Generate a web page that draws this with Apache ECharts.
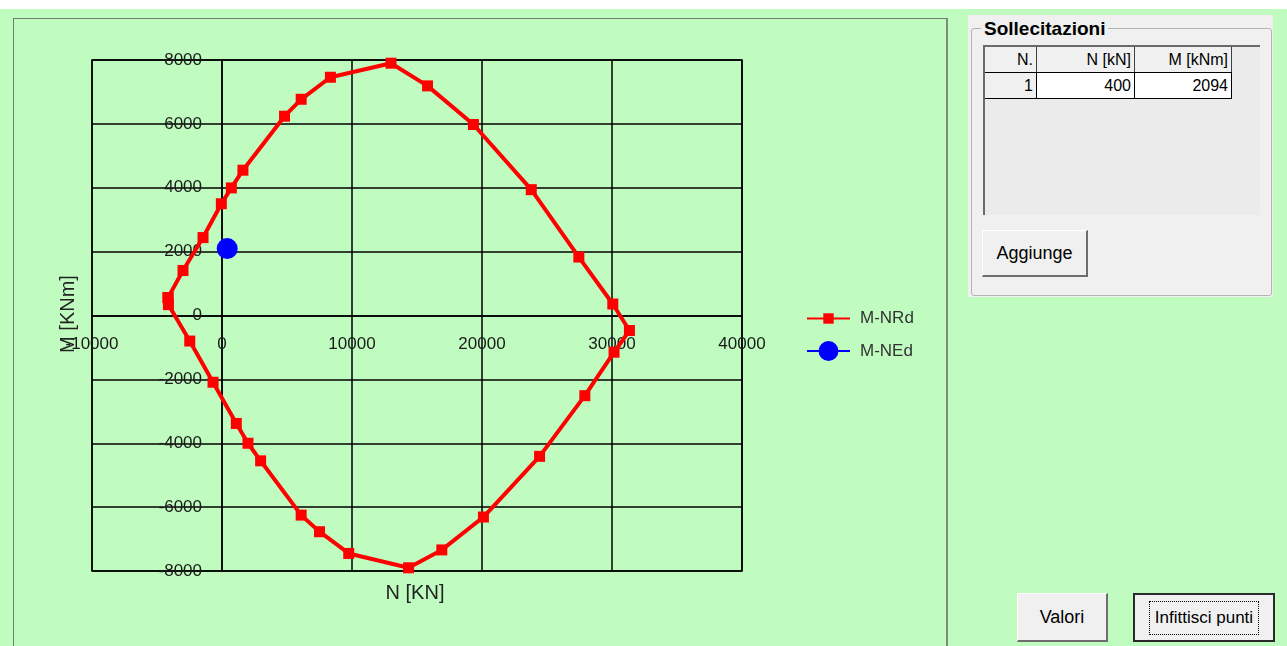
<!DOCTYPE html>
<html lang="it">
<head>
<meta charset="UTF-8">
<title>Dominio M-N</title>
<script src="https://cdn.jsdelivr.net/npm/echarts@6/dist/echarts.min.js"></script>
<style>
  html, body {
    margin: 0;
    padding: 0;
    width: 1287px;
    height: 646px;
    overflow: hidden;
    background: #c0fcc0;
    font-family: 'Liberation Sans', Arial, sans-serif;
  }
  .topstrip { position: absolute; left: 0; top: 0; width: 1287px; height: 9px; background: #fff; }
  /* cornice del grafico */
  .frame {
    position: absolute; left: 13px; top: 18px; width: 932px; height: 640px;
    border-left: 1px solid #6f7f6f; border-top: 1px solid #6f7f6f;
    border-right: 2px solid #7d8d7d;
  }
  #chart { position: absolute; left: 0; top: 0; width: 1287px; height: 646px; }
  /* pannello Sollecitazioni */
  .group { position: absolute; left: 968px; top: 15px; width: 305px; height: 282px; background: #f0f0f0; }
  .group .box {
    position: absolute; left: 3px; top: 13px; width: 299px; height: 266px;
    border: 1px solid #b4b4b4; border-radius: 3px;
  }
  .group .title {
    position: absolute; left: 13px; top: 3px; padding: 0 3px; background: #f0f0f0;
    font-weight: bold; font-size: 19px; color: #000; line-height: 22px;
  }
  .grid {
    position: absolute; left: 15px; top: 30px; width: 275px; height: 168px;
    background: #ebebeb; border-left: 2px solid #6a6a6a; border-top: 2px solid #6a6a6a;
  }
  table { border-collapse: collapse; font-size: 16px; }
  td { height: 25px; padding: 0 3px; text-align: right; border-right: 1px solid #000; border-bottom: 1px solid #000; }
  tr.head td { background: #f0f0f0; border-right: 1px solid #404040; }
  td.num { background: #f0f0f0; }
  td.val { background: #fff; }
  .btn {
    position: absolute; background: #f0f0f0; box-sizing: border-box;
    border-top: 1px solid #fff; border-left: 1px solid #fff;
    border-right: 2px solid #6e6e6e; border-bottom: 2px solid #6e6e6e;
    font-size: 18px; color: #000; display: flex; align-items: center; justify-content: center;
  }
  .btn.def { border: 2px solid #2a2a2a; font-size: 17px; }
  .btn.def span { border: 1px dotted #000; padding: 6px 5px; }
</style>
</head>
<body>
<div class="topstrip"></div>
<div class="frame"></div>
<div id="chart"></div>

<div class="group">
  <div class="box"></div>
  <div class="title">Sollecitazioni</div>
  <div class="grid">
    <table>
      <tr class="head"><td style="width:45px">N.</td><td style="width:91px">N [kN]</td><td style="width:90px">M [kNm]</td></tr>
      <tr><td class="num">1</td><td class="val">400</td><td class="val">2094</td></tr>
    </table>
  </div>
</div>
<div class="btn" style="left:982px; top:230px; width:106px; height:47px;">Aggiunge</div>
<div class="btn" style="left:1017px; top:593px; width:91px; height:49px;">Valori</div>
<div class="btn def" style="left:1133px; top:593px; width:142px; height:49px;"><span>Infittisci punti</span></div>

<script>
// dominio resistente M-NRd (N in kN, M in kNm)
var nrdN = [-4150, -3000, -1460, -50, 720, 1610, 4810, 6090, 8340, 13000, 15810, 19340, 23790, 27450, 30060, 31340,
            30160, 27910, 24430, 20110, 16910, 14350, 9750, 7500, 6090, 2970, 2000, 1100, -690, -2480, -4120];
var nrdM = [560, 1410, 2440, 3500, 3995, 4550, 6240, 6770, 7460, 7900, 7190, 5980, 3940, 1830, 360, -470,
            -1150, -2510, -4410, -6310, -7340, -7900, -7450, -6770, -6250, -4550, -4000, -3380, -2090, -800, 340];
// sollecitazione di progetto M-NEd
var nedN = [400];
var nedM = [2094];

var xMin = -10000, xMax = 40000, xStep = 10000;
var yMin = -8000, yMax = 8000, yStep = 2000;

var nrdData = nrdN.map(function (n, i) { return [n, nrdM[i]]; });
nrdData.push(nrdData[0]); // chiude il dominio
var nedData = nedN.map(function (n, i) { return [n, nedM[i]]; });

// area del grafico in pixel
var G = { left: 92, top: 60, width: 650, height: 511 };
// gli assi passano per lo zero dell'altro asse
var yAxisOffset = -G.width * (0 - xMin) / (xMax - xMin);
var xAxisOffset = -G.height * (0 - yMin) / (yMax - yMin);

var FONT = 'Liberation Sans';
function plain(v) { return String(v); }

var chart = echarts.init(document.getElementById('chart'));
chart.setOption({
  backgroundColor: 'transparent',
  animation: false,
  grid: {
    left: G.left, top: G.top, width: G.width, height: G.height,
    show: true, borderColor: '#000', borderWidth: 1.5, backgroundColor: 'transparent'
  },
  xAxis: {
    type: 'value', min: xMin, max: xMax, interval: xStep,
    position: 'bottom', offset: xAxisOffset,
    axisLine: { onZero: false, lineStyle: { color: '#000', width: 1.5 } },
    axisTick: { show: false },
    axisLabel: { margin: 20, color: '#1a1a1a', fontSize: 17, fontFamily: FONT, formatter: plain },
    splitLine: { lineStyle: { color: '#000', width: 1.5 } }
  },
  yAxis: {
    type: 'value', min: yMin, max: yMax, interval: yStep,
    position: 'left', offset: yAxisOffset,
    axisLine: { onZero: false, lineStyle: { color: '#000', width: 1.5 } },
    axisTick: { show: false },
    axisLabel: { margin: 20, color: '#1a1a1a', fontSize: 17, fontFamily: FONT, formatter: plain },
    splitLine: { lineStyle: { color: '#000', width: 1.5 } }
  },
  legend: [
    {
      data: ['M-NRd'], orient: 'vertical', left: 806, top: 310, padding: 0,
      itemWidth: 43, itemHeight: 13,
      textStyle: { color: '#333', fontSize: 17, fontFamily: FONT, padding: [0, 0, 0, 5] }
    },
    {
      data: ['M-NEd'], orient: 'vertical', left: 806, top: 341, padding: 0,
      itemWidth: 43, itemHeight: 25,
      textStyle: { color: '#333', fontSize: 17, fontFamily: FONT, padding: [0, 0, 0, 5] }
    }
  ],
  graphic: [
    {
      type: 'text', x: 415, y: 593,
      style: { text: 'N [KN]', font: '20px ' + FONT, fill: '#222',
               align: 'center', verticalAlign: 'middle', textAlign: 'center', textVerticalAlign: 'middle' }
    },
    {
      type: 'text', x: 68, y: 314, rotation: Math.PI / 2,
      style: { text: 'M [KNm]', font: '20px ' + FONT, fill: '#222',
               align: 'center', verticalAlign: 'middle', textAlign: 'center', textVerticalAlign: 'middle' }
    }
  ],
  series: [
    {
      name: 'M-NRd', type: 'line', data: nrdData,
      symbol: 'rect', symbolSize: 11, showAllSymbol: true,
      itemStyle: { color: '#ff0000' },
      lineStyle: { color: '#ff0000', width: 4 }
    },
    {
      name: 'M-NEd', type: 'line', data: nedData,
      symbol: 'circle', symbolSize: 21,
      itemStyle: { color: '#0000ff' },
      lineStyle: { color: '#0000ff', width: 3 }
    }
  ]
});
</script>
</body>
</html>
